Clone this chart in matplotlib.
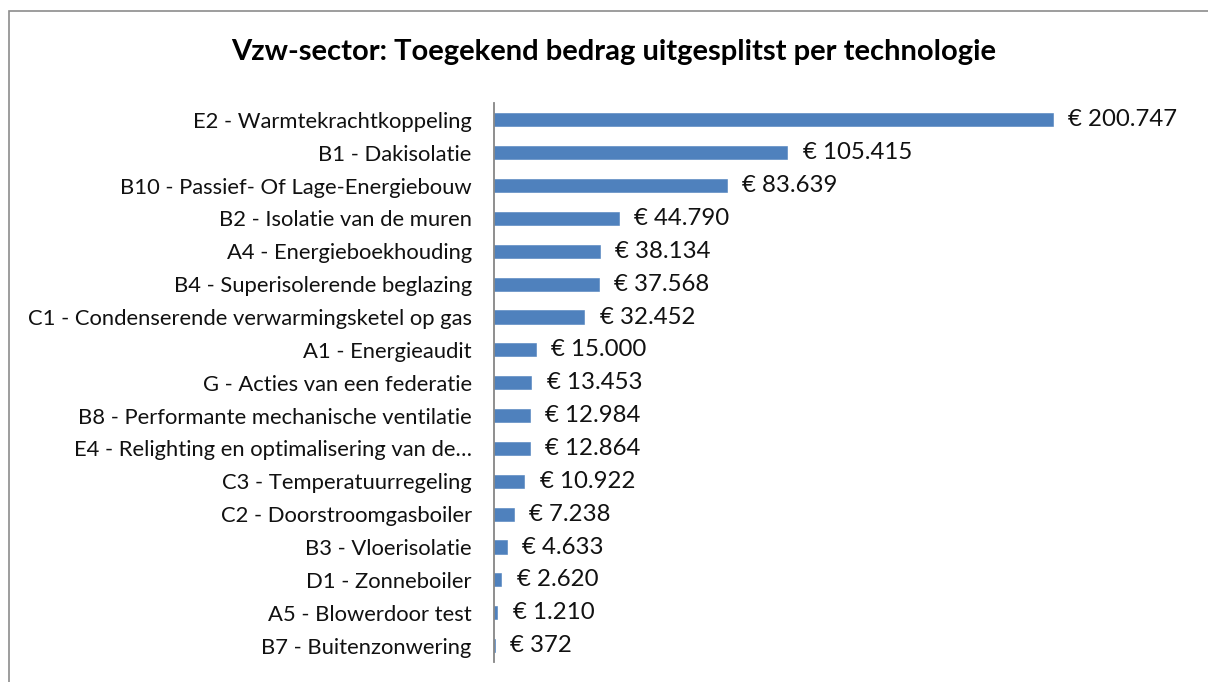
import matplotlib as mpl
mpl.use('Agg')
import matplotlib.pyplot as plt
from matplotlib.patches import Rectangle

categories = [
    "E2 - Warmtekrachtkoppeling",
    "B1 - Dakisolatie",
    "B10 - Passief- Of Lage-Energiebouw",
    "B2 - Isolatie van de muren",
    "A4 - Energieboekhouding",
    "B4 - Superisolerende beglazing",
    "C1 - Condenserende verwarmingsketel op gas",
    "A1 - Energieaudit",
    "G - Acties van een federatie",
    "B8 - Performante mechanische ventilatie",
    "E4 - Relighting en optimalisering van de\u2026",
    "C3 - Temperatuurregeling",
    "C2 - Doorstroomgasboiler",
    "B3 - Vloerisolatie",
    "D1 - Zonneboiler",
    "A5 - Blowerdoor test",
    "B7 - Buitenzonwering",
]
amounts = [200747, 105415, 83639, 44790, 38134, 37568, 32452, 15000,
           13453, 12984, 12864, 10922, 7238, 4633, 2620, 1210, 372]

plt.rcParams['font.family'] = ['Lato', 'DejaVu Sans']

W, H = 1208, 682
fig = plt.figure(figsize=(W / 100, H / 100), dpi=100)
fig.patch.set_facecolor('white')

# outer chart border (cut off on right and bottom)
fig.patches.append(Rectangle((9 / W, -0.1), 1.2, 1 - 11 / H + 0.1,
                             transform=fig.transFigure, fill=False,
                             edgecolor='#8c8c8c', linewidth=1.2))

ax = fig.add_axes([494 / W, 20 / H, 696 / W, 558.5 / H])
ypos = list(range(len(categories)))
ax.barh(ypos, amounts, height=0.4, color='#4F81BD', edgecolor='#4F81BD', linewidth=0.4)
ax.set_ylim(len(categories) - 0.5, -0.5)
ax.set_xlim(0, 250000)

ax.set_yticks(ypos)
ax.set_yticklabels(categories, fontsize=15.8, color='#111111')
ax.tick_params(axis='y', length=0, pad=16)
ax.set_xticks([])
for s in ['top', 'right', 'bottom']:
    ax.spines[s].set_visible(False)
ax.spines['left'].set_color('#868686')
ax.spines['left'].set_linewidth(1.3)

for y, v in zip(ypos, amounts):
    lbl = "\u20ac " + f"{v:,}".replace(",", ".")
    ax.annotate(lbl, (v, y), xytext=(11, 0), textcoords='offset points',
                va='center', ha='left', fontsize=17.3, color='#111111')

fig.text(614 / W, 1 - 52 / H, "Vzw-sector: Toegekend bedrag uitgesplitst per technologie",
         ha='center', va='center', fontsize=21, fontweight='bold')

fig.savefig('out.png', dpi=100)
